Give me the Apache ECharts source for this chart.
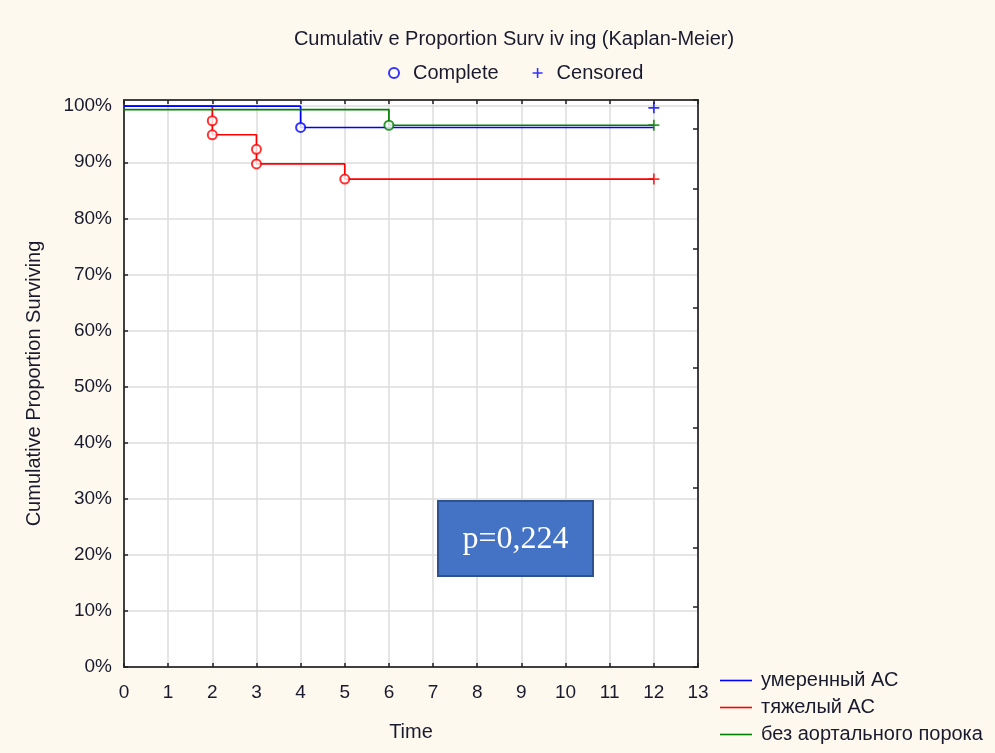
<!DOCTYPE html>
<html>
<head>
<meta charset="utf-8">
<script src="https://cdn.jsdelivr.net/npm/echarts@6/dist/echarts.min.js"></script>
<style>
  html, body { margin: 0; padding: 0; background: #FEF9EF; }
  #chart { width: 995px; height: 753px; }
</style>
</head>
<body>
<div id="chart"></div>
<script>
// Kaplan-Meier survival by aortic stenosis group (time in months, survival in %)
const groupNames = ['умеренный АС', 'тяжелый АС', 'без аортального порока'];
const groupColors = ['#0000FF', '#FF0000', '#008000'];

const timeTicks = [0, 1, 2, 3, 4, 5, 6, 7, 8, 9, 10, 11, 12, 13];
const percentTicks = [0, 10, 20, 30, 40, 50, 60, 70, 80, 90, 100];

// step curves: [time, survival %]
const moderateCurve = [[0, 100], [4, 100], [4, 96.2], [12, 96.2]];
const severeCurve = [[0, 100], [2, 100], [2, 94.9], [3, 94.9], [3, 89.7], [5, 89.7], [5, 87.0], [12, 87.0]];
const noAorticCurve = [[0, 99.4], [6, 99.4], [6, 96.6], [12, 96.6]];

// complete (event) observations
const moderateComplete = [[4, 96.2]];
const severeComplete = [[2, 97.4], [2, 94.9], [3, 92.3], [3, 89.7], [5, 87.0]];
const noAorticComplete = [[6, 96.6]];

// censored observations
const moderateCensored = [[12, 99.7]];
const severeCensored = [[12, 87.0]];
const noAorticCensored = [[12, 96.6]];

const pValueLabel = 'p=0,224';

const FONT = 'Liberation Sans, Arial, sans-serif';
const TEXT_COLOR = '#1a1a2e';
const plusPath = 'path://M4.2,0H5.8V10H4.2ZM0,4.2H10V5.8H0Z';

const chart = echarts.init(document.getElementById('chart'), null, { renderer: 'canvas' });

function curveSeries(name, data, color) {
  return {
    name: name, type: 'line', data: data, symbol: 'none', showSymbol: false,
    lineStyle: { color: color, width: 1.7 }, itemStyle: { color: color },
    animation: false, z: 3
  };
}
function completeSeries(data, color) {
  return {
    name: 'complete-' + color, type: 'scatter', data: data, symbol: 'emptyCircle', symbolSize: 9,
    itemStyle: { color: color, borderColor: color, borderWidth: 1.5 },
    animation: false, z: 4, silent: true
  };
}
function censoredSeries(data, color) {
  return {
    name: 'censored-' + color, type: 'scatter', data: data, symbol: plusPath, symbolSize: 11,
    itemStyle: { color: color }, animation: false, z: 4, silent: true
  };
}

const option = {
  backgroundColor: '#FEF9EF',
  animation: false,
  title: {
    text: 'Cumulativ e Proportion Surv iv ing (Kaplan-Meier)',
    left: 509, top: 24, textAlign: 'center',
    textStyle: { fontFamily: FONT, fontSize: 20, fontWeight: 'normal', color: TEXT_COLOR }
  },
  legend: [
    {
      data: ['Complete', 'Censored'],
      left: 383, top: 58, itemWidth: 10, itemHeight: 10, itemGap: 34,
      selectedMode: false,
      textStyle: { fontFamily: FONT, fontSize: 20, color: TEXT_COLOR, padding: [0, 0, 0, 9] }
    },
    {
      data: groupNames,
      icon: 'rect',
      orient: 'vertical', left: 715, top: 665, itemWidth: 32, itemHeight: 1.6, itemGap: 6,
      selectedMode: false,
      textStyle: { fontFamily: FONT, fontSize: 20, color: TEXT_COLOR, lineHeight: 21, padding: [0, 0, 0, 4] }
    }
  ],
  grid: { left: 124, top: 100, right: 297, bottom: 86, show: true, backgroundColor: '#FFFFFF', borderWidth: 0 },
  xAxis: [
    {
      type: 'value', min: timeTicks[0], max: timeTicks[timeTicks.length - 1], interval: 1,
      name: 'Time', nameLocation: 'middle', nameGap: 55,
      nameTextStyle: { fontFamily: FONT, fontSize: 20, color: TEXT_COLOR },
      axisLine: { show: true, onZero: false, lineStyle: { color: '#404040', width: 2 } },
      axisTick: { show: true, inside: true, length: 4, lineStyle: { color: '#202020', width: 1.5 } },
      axisLabel: { fontFamily: FONT, fontSize: 19, color: TEXT_COLOR, margin: 16 },
      splitLine: { show: true, lineStyle: { color: '#DCDCDC', width: 1.5 } }
    },
    {
      type: 'value', position: 'top', min: timeTicks[0], max: timeTicks[timeTicks.length - 1], interval: 1,
      axisLine: { show: true, onZero: false, lineStyle: { color: '#404040', width: 2 } },
      axisTick: { show: true, inside: true, length: 4, lineStyle: { color: '#202020', width: 1.5 } },
      axisLabel: { show: false }, splitLine: { show: false }
    }
  ],
  yAxis: [
    {
      type: 'value', min: percentTicks[0], max: 101.1, interval: 10,
      name: 'Cumulative Proportion Surviving', nameLocation: 'middle', nameGap: 80,
      nameTextStyle: { fontFamily: FONT, fontSize: 20, color: TEXT_COLOR },
      axisLine: { show: true, onZero: false, lineStyle: { color: '#404040', width: 2 } },
      axisTick: { show: true, inside: true, length: 4, lineStyle: { color: '#202020', width: 1.5 } },
      axisLabel: {
        fontFamily: FONT, fontSize: 19, color: TEXT_COLOR, margin: 12,
        formatter: v => (percentTicks.indexOf(v) >= 0 ? v + '%' : ''),
        showMaxLabel: false
      },
      splitLine: { show: true, lineStyle: { color: '#DCDCDC', width: 1.5 } }
    },
    {
      type: 'value', position: 'right', min: 0, max: 9.48, interval: 1,
      axisLine: { show: true, onZero: false, lineStyle: { color: '#404040', width: 2 } },
      axisTick: { show: true, inside: true, length: 5, lineStyle: { color: '#202020', width: 1.5 } },
      axisLabel: { show: false }, splitLine: { show: false }
    }
  ],
  series: [
    curveSeries(groupNames[1], severeCurve, groupColors[1]),
    curveSeries(groupNames[0], moderateCurve, groupColors[0]),
    curveSeries(groupNames[2], noAorticCurve, groupColors[2]),
    completeSeries(severeComplete, groupColors[1]),
    completeSeries(moderateComplete, groupColors[0]),
    completeSeries(noAorticComplete, groupColors[2]),
    censoredSeries(severeCensored, groupColors[1]),
    censoredSeries(noAorticCensored, groupColors[2]),
    censoredSeries(moderateCensored, groupColors[0]),
    // legend entries for the observation markers
    { name: 'Complete', type: 'scatter', data: [], symbol: 'emptyCircle',
      itemStyle: { color: '#0000FF', borderColor: '#0000FF', borderWidth: 1.5 } },
    { name: 'Censored', type: 'scatter', data: [], symbol: plusPath,
      itemStyle: { color: '#0000FF' } }
  ],
  graphic: [
    {
      type: 'group', left: 437, top: 500, z: 100,
      children: [
        { type: 'rect', z: 100, shape: { x: 0, y: 0, width: 155, height: 75 },
          style: { fill: '#4472C4', stroke: '#2F528F', lineWidth: 2 } },
        { type: 'text', z: 101, x: 77.5, y: 39,
          style: { text: pValueLabel, fill: '#FFFFFF', font: '32px "Liberation Serif", "Times New Roman", serif',
                   align: 'center', verticalAlign: 'middle' } }
      ]
    }
  ]
};

chart.setOption(option);
</script>
</body>
</html>
